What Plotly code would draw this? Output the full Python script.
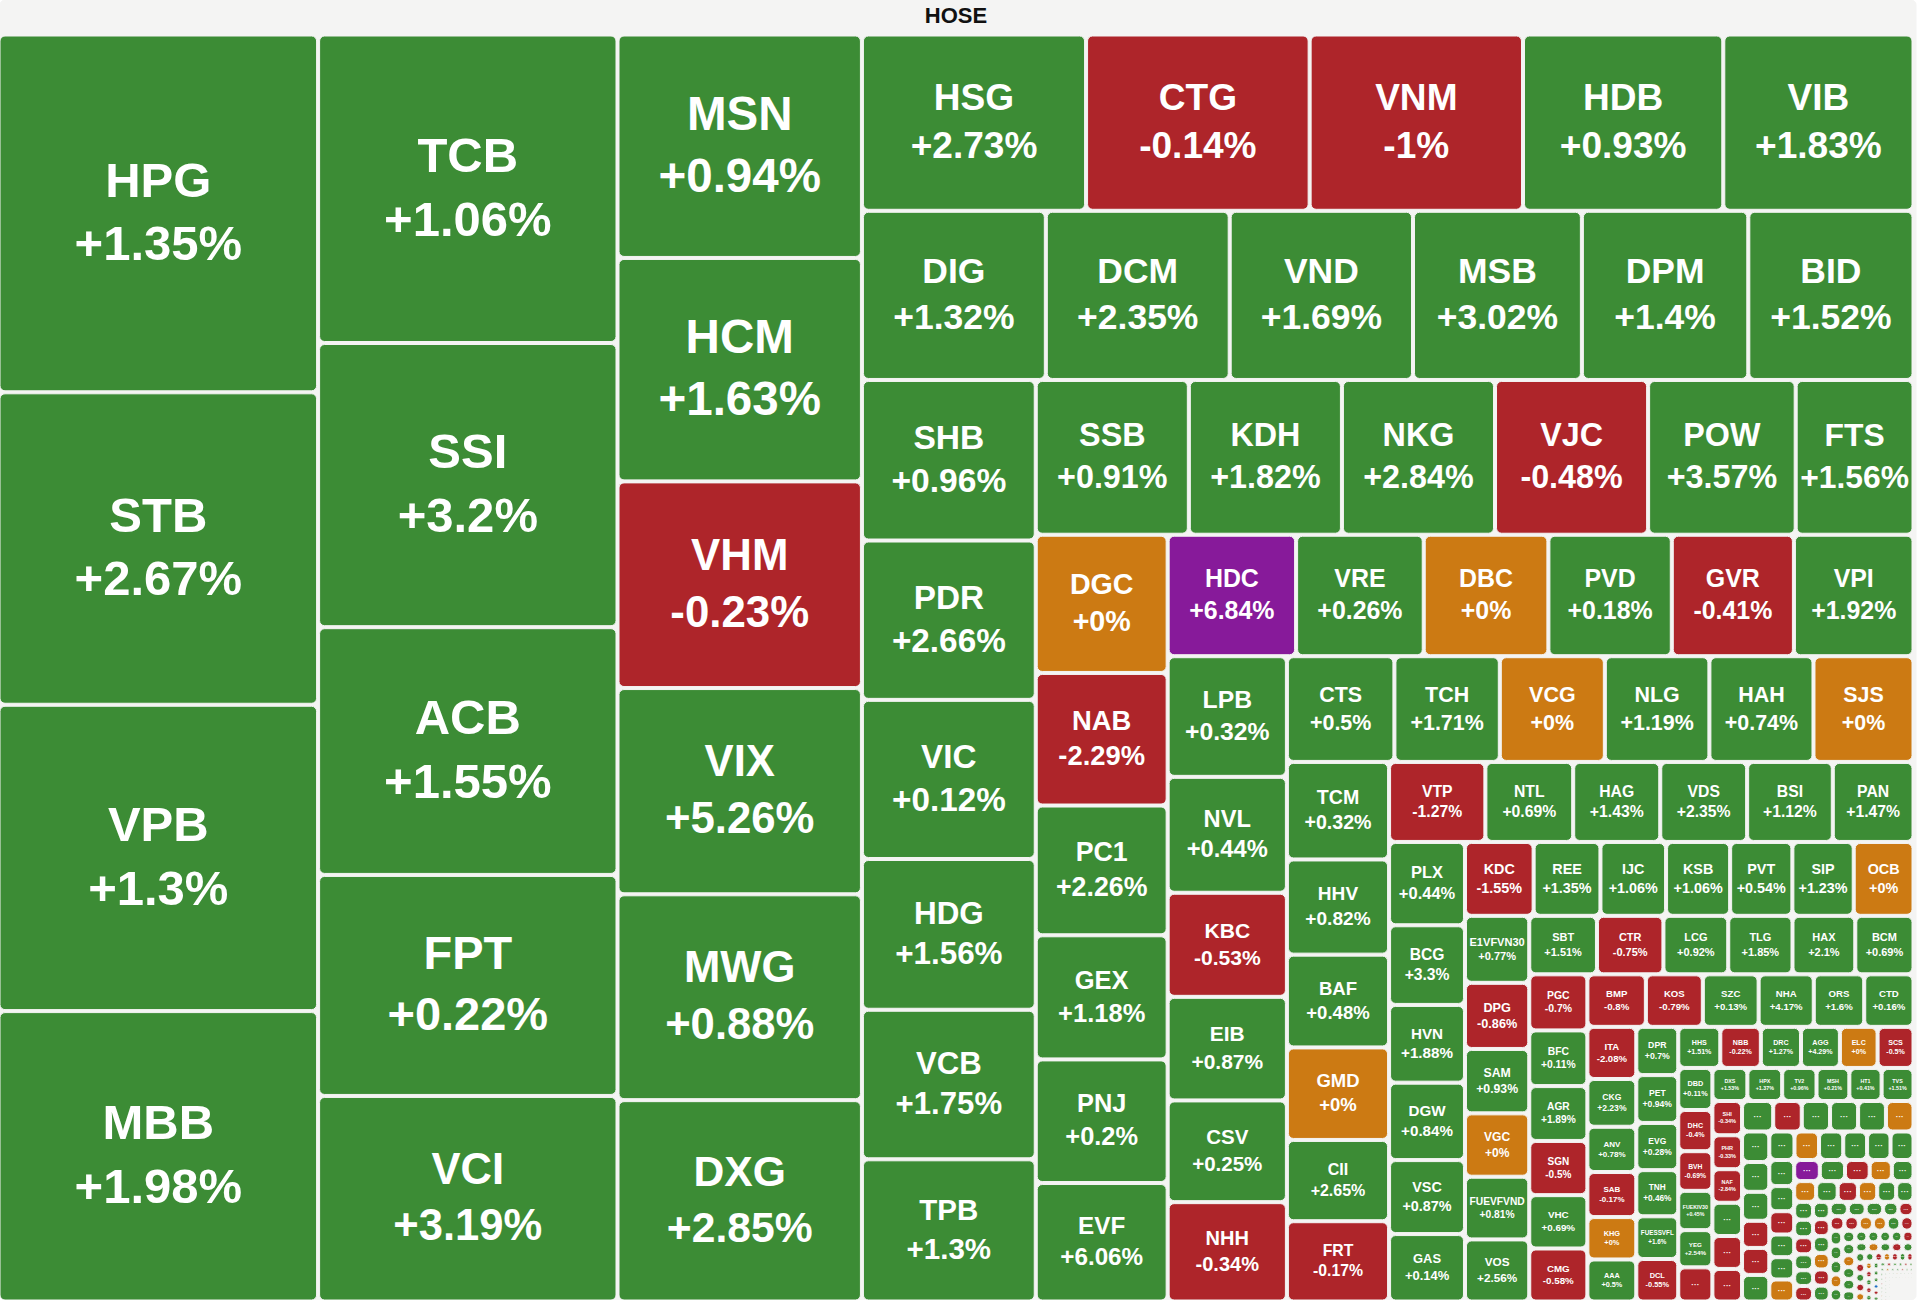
import plotly.graph_objects as go

market = "HOSE"

tickers = [
    "HPG", "STB", "VPB", "MBB", "TCB", "SSI", "ACB", "FPT", "VCI", "MSN",
    "HCM", "VHM", "VIX", "MWG", "DXG", "HSG", "CTG", "VNM", "HDB", "VIB",
    "DIG", "DCM", "VND", "MSB", "DPM", "BID", "SHB", "PDR", "VIC", "HDG",
    "VCB", "TPB", "SSB", "KDH", "NKG", "VJC", "POW", "FTS", "DGC", "NAB",
    "PC1", "GEX", "PNJ", "EVF", "HDC", "VRE", "DBC", "PVD", "GVR", "VPI",
    "LPB", "NVL", "KBC", "EIB", "CSV", "NHH", "CTS", "TCH", "VCG", "NLG",
    "HAH", "SJS", "TCM", "HHV", "BAF", "GMD", "CII", "FRT", "VTP", "NTL",
    "HAG", "VDS", "BSI", "PAN", "PLX", "BCG", "HVN", "DGW", "VSC", "GAS",
    "KDC", "REE", "IJC", "KSB", "PVT", "SIP", "OCB", "E1VFVN30", "DPG", "SAM",
    "VGC", "FUEVFVND", "VOS", "SBT", "CTR", "LCG", "TLG", "HAX", "BCM", "PGC",
    "BFC", "AGR", "SGN", "VHC", "CMG", "BMP", "KOS", "SZC", "NHA", "ORS",
    "CTD", "ITA", "CKG", "ANV", "SAB", "KHG", "AAA", "DPR", "PET", "EVG",
    "TNH", "FUESSVFL", "DCL", "HHS", "NBB", "DRC", "AGG", "ELC", "SCS", "DBD",
    "DHC", "BVH", "FUEKIV30", "YEG", "DXS", "HPX", "TV2", "MSH", "HT1", "TVS",
    "SHI", "PHR", "NAF",
]

# estimated weight of each stock (tile area)
values = [
    114318, 99833, 97875, 92786, 92343, 85061, 74156, 66159, 61528, 54600,
    54600, 50500, 50400, 50300, 49200, 39500, 39400, 37600, 35300, 33521,
    31100, 31100, 31000, 28565, 28148, 27939, 27900, 27690, 27650, 26199,
    25986, 24708, 23686, 23686, 23686, 23686, 22831, 18228, 18228, 17484,
    17112, 16368, 16300, 15624, 15600, 15500, 15141, 14987, 14832, 14523,
    14382, 13818, 12408, 12350, 12126, 11844, 11363, 11138, 11100, 11050,
    11000, 10571, 9963, 9720, 9477, 9450, 8300, 8200, 7706, 7026,
    6966, 6950, 6854, 6457, 6323, 6044, 5901, 5876, 5614, 5117,
    5070, 4935, 4847, 4732, 4597, 4529, 4416, 4306, 4250, 4140,
    4071, 4030, 3990, 3960, 3888, 3791, 3759, 3673, 3405, 3258,
    3236, 3187, 3149, 3100, 3080, 3070, 2990, 2929, 2895, 2649,
    2587, 2550, 2335, 2214, 2204, 2073, 2055, 2024, 2006, 1980,
    1936, 1791, 1782, 1728, 1665, 1650, 1599, 1548, 1476, 1435,
    1406, 1353, 1341, 1271, 1156, 1150, 1135, 1085, 1066, 1054,
    1015, 1005, 995,
]

# price change, %
changes = [
    1.35, 2.67, 1.3, 1.98, 1.06, 3.2, 1.55, 0.22, 3.19, 0.94,
    1.63, -0.23, 5.26, 0.88, 2.85, 2.73, -0.14, -1, 0.93, 1.83,
    1.32, 2.35, 1.69, 3.02, 1.4, 1.52, 0.96, 2.66, 0.12, 1.56,
    1.75, 1.3, 0.91, 1.82, 2.84, -0.48, 3.57, 1.56, 0, -2.29,
    2.26, 1.18, 0.2, 6.06, 6.84, 0.26, 0, 0.18, -0.41, 1.92,
    0.32, 0.44, -0.53, 0.87, 0.25, -0.34, 0.5, 1.71, 0, 1.19,
    0.74, 0, 0.32, 0.82, 0.48, 0, 2.65, -0.17, -1.27, 0.69,
    1.43, 2.35, 1.12, 1.47, 0.44, 3.3, 1.88, 0.84, 0.87, 0.14,
    -1.55, 1.35, 1.06, 1.06, 0.54, 1.23, 0, 0.77, -0.86, 0.93,
    0, 0.81, 2.56, 1.51, -0.75, 0.92, 1.85, 2.1, 0.69, -0.7,
    0.11, 1.89, -0.5, 0.69, -0.58, -0.8, -0.79, 0.13, 4.17, 1.6,
    0.16, -2.08, 2.23, 0.78, -0.17, 0, 0.5, 0.7, 0.94, 0.28,
    0.46, 1.6, -0.55, 1.51, -0.22, 1.27, 4.29, 0, -0.5, 0.11,
    -0.4, -0.69, 0.45, 2.54, 1.53, 1.37, 0.96, 0.21, 0.41, 1.51,
    -0.34, -0.33, -2.84,
]

# smaller stocks shown only as "···": estimated weights and tile colour
# (g up, r down, o unchanged, p ceiling, b floor)
tail_values = [
    1165, 985, 975, 965, 950, 870, 862, 855, 848, 840, 832,
    812, 790, 740, 735, 725, 718, 700, 690, 680, 668, 655, 650, 625,
    580, 565, 555, 548, 540, 532, 520, 468, 457, 455, 447, 421,
    400, 393, 360, 336, 330, 320, 300, 296, 292, 288, 284, 280, 276,
    270, 265, 260, 255, 250, 220, 216, 212, 208, 204, 200, 196,
    190, 186, 182, 178, 174, 165, 162, 159, 156, 153, 150,
    145, 142, 139, 136, 133, 130, 120, 117, 114, 111, 108, 105,
    100, 97, 94, 91, 88, 80, 77, 74, 71, 68, 64, 62, 60, 58, 56, 54,
    48, 46, 44, 42, 40, 36, 34, 32, 30, 29, 28, 27, 26, 25, 24, 23,
    22, 21, 20, 19, 18, 17, 16, 16, 16, 15, 15, 15, 15, 14, 14, 14, 14,
    13, 13, 13, 13, 13, 12, 12, 12, 12, 12, 12, 11, 11, 11, 11, 11, 11,
    11, 10, 10, 10, 10, 10, 10, 10, 10, 9, 9, 9, 9, 9, 9, 9, 9, 9, 9,
    8, 8, 8, 8, 8, 8, 8, 8, 8, 8, 8, 8, 7, 7, 7, 7, 7, 7, 7, 7, 7, 7,
    7, 7, 6, 6, 6, 6, 6, 6, 6, 6, 6, 6, 6, 6, 5, 5, 5, 5, 5, 5, 5, 5,
    5, 5, 5, 5, 4, 4, 4, 4, 4, 4, 4, 4, 4, 4, 3, 3, 3, 3, 3, 3, 3, 3,
]
tail_status = (
    "rgrrg" "rgggog" "ggrrggo" "gggggg" "rggopgr" "ogogr" "ogg" "ggr"
    "ggrgrgo" "rgggg" "grrroog" "rgggo" "gggogg" "gggggr" "gogrgg"
    "rgrog" "rorgr" "orgrgg" "ggbrg" "grggrggoggrg"
    "gggrggoggrggg" "ggrggogggrgg" "gggrgggggg" "gggrgggogg" "grggggrggggg"
    "ggggrgggoggg" "gggggrggggrg" "ggggrggggg" "gggggggg"
)

GREEN = "#3c8c35"
RED = "#ae252a"
ORANGE = "#cc7a13"
PURPLE = "#871a9a"
BLUE = "#1f6fc5"
BG = "#f4f4f3"
palette = {"g": GREEN, "r": RED, "o": ORANGE, "p": PURPLE, "b": BLUE}


def status_of(ch):
    if ch >= 6.5:
        return "p"
    if ch <= -6.5:
        return "b"
    if ch == 0:
        return "o"
    return "g" if ch > 0 else "r"


LEAF_TT = ("<span style='font-size:33px'>&nbsp;</span><br>"
           "<b>%{label}</b><br><b>%{customdata}%</b><br>"
           "<span style='font-size:1px'>&nbsp;</span>")
TAIL_TT = "<b>%{label}</b>"

ids, labels, parents, vals, colors, cdata, ttpl, fsize = (
    [market], [market], [""], [0], [BG], [""], ["<b>%{label}</b>"], [22])
for t, v, c in zip(tickers, values, changes):
    ids.append(t)
    labels.append(t)
    parents.append(market)
    vals.append(v)
    colors.append(palette[status_of(c)])
    cdata.append(f"{c:+g}")
    ttpl.append(LEAF_TT)
    fsize.append(49)
for i, (v, s) in enumerate(zip(tail_values, tail_status.ljust(len(tail_values), "g"))):
    ids.append(f"{market}-{i}")
    labels.append("···")
    parents.append(market)
    vals.append(v)
    colors.append(palette[s])
    cdata.append("")
    ttpl.append(TAIL_TT)
    fsize.append(8)

fig = go.Figure(go.Treemap(
    ids=ids, labels=labels, parents=parents, values=vals,
    customdata=cdata, texttemplate=ttpl, textposition="middle center",
    insidetextfont=dict(family="Liberation Sans, Arial, sans-serif", color="white", size=fsize),
    outsidetextfont=dict(family="Liberation Sans, Arial, sans-serif", color="#111111",
                         size=22, weight="bold"),
    marker=dict(colors=colors, line=dict(color=BG, width=1), cornerradius=5,
                pad=dict(t=36, l=0, r=4, b=0)),
    tiling=dict(pad=3, squarifyratio=1),
    pathbar=dict(visible=False), sort=True, hoverinfo="skip",
))
fig.update_layout(width=1920, height=1300, margin=dict(l=0, r=4, t=0, b=0),
                  paper_bgcolor="white",
                  font=dict(family="Liberation Sans, Arial, sans-serif"))
fig.write_html("out.html", config={"displayModeBar": False},
               post_script="document.body.style.margin='0';")
